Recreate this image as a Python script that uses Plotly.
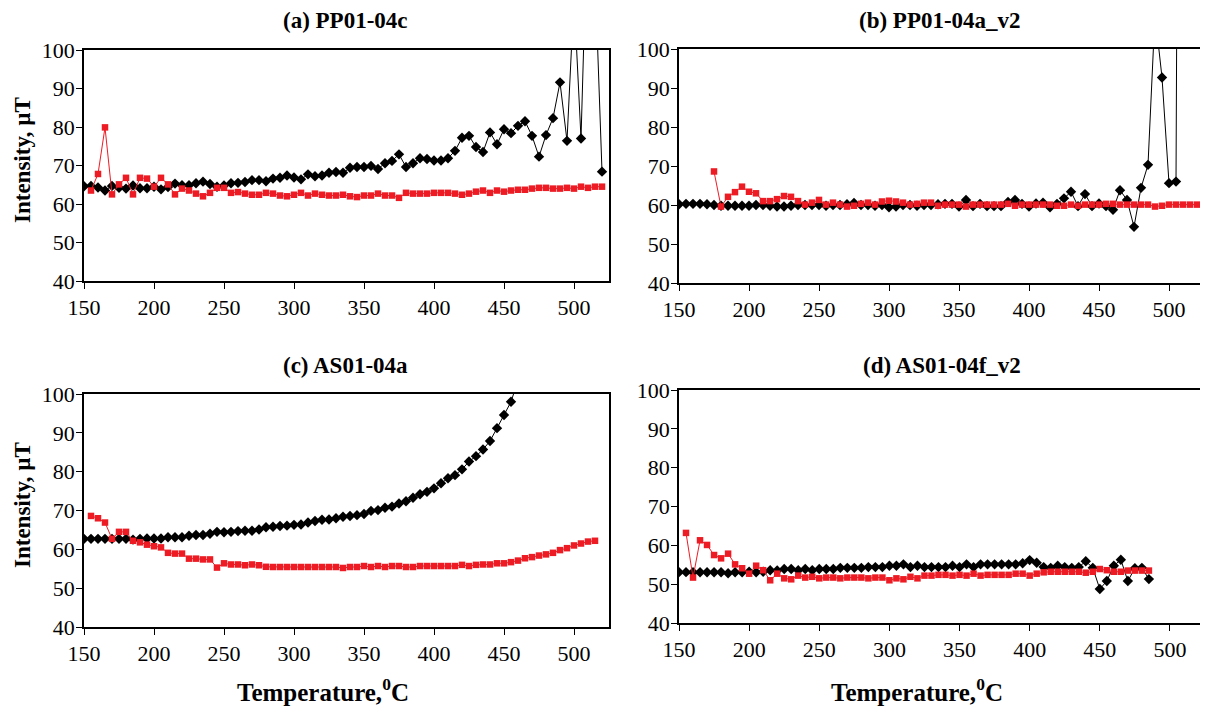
import plotly.graph_objects as go

# ---------------- data ----------------
a_black_T = list(range(150, 525, 5))
a_black = [64.6, 64.7, 64.3, 63.5, 64.7, 64.2, 64.0, 64.8, 64.1, 64.1,
           64.5, 63.8, 64.4, 65.3, 64.9, 64.9, 65.4, 65.8, 65.2, 64.5,
           64.8, 65.4, 65.5, 65.7, 66.2, 66.2, 65.9, 66.6, 66.8, 67.4,
           66.9, 66.4, 67.7, 67.2, 67.4, 68.1, 68.3, 68.1, 69.4, 69.6,
           69.6, 69.9, 69.1, 70.6, 71.2, 72.9, 69.6, 70.6, 71.9, 71.7,
           71.3, 71.3, 71.9, 73.8, 77.2, 77.7, 74.8, 73.5, 78.6, 75.5,
           79.4, 78.4, 80.3, 81.5, 77.7, 72.3, 77.9, 82.3, 91.6, 76.4,
           114.0, 77.0, 140.0, 120.0, 68.4]
a_red_T = list(range(155, 525, 5))
a_red = [63.5, 67.8, 79.9, 62.5, 65.1, 66.8, 62.5, 66.8, 66.6, 64.5,
         66.8, 65.1, 62.5, 64.0, 63.5, 62.7, 62.0, 62.9, 64.2, 64.2,
         62.9, 63.1, 62.7, 62.4, 62.4, 62.9, 62.7, 62.2, 62.0, 62.4,
         62.9, 62.2, 62.7, 62.4, 62.2, 62.2, 62.4, 62.0, 61.8, 62.2,
         62.2, 62.7, 62.2, 62.2, 61.6, 62.9, 62.7, 62.7, 62.7, 62.9,
         62.9, 62.9, 62.7, 62.4, 62.7, 63.2, 63.5, 62.9, 63.5, 63.2,
         63.5, 63.7, 63.7, 64.0, 64.2, 64.2, 64.0, 64.0, 64.2, 64.0,
         64.5, 64.2, 64.5, 64.5]

b_black_T = list(range(150, 515, 5))
b_black = [60.2, 60.3, 60.3, 60.3, 60.2, 60.0, 59.8, 59.8, 59.8, 59.8,
           59.8, 60.0, 60.0, 59.8, 59.6, 59.6, 59.8, 60.0, 60.0, 60.0,
           60.0, 59.8, 60.0, 60.0, 60.2, 60.5, 60.0, 60.0, 59.8, 60.0,
           59.4, 59.6, 60.0, 60.0, 59.8, 60.0, 60.0, 60.2, 60.3, 60.3,
           59.6, 61.3, 59.7, 60.3, 59.7, 59.7, 59.7, 60.8, 61.3, 60.3,
           59.6, 60.4, 60.6, 59.4, 60.3, 61.7, 63.4, 59.7, 62.8, 59.7,
           60.4, 59.7, 58.8, 63.8, 61.3, 54.4, 64.4, 70.3, 109.0, 92.7,
           65.6, 66.0, 450.0]
b_red_T = list(range(175, 525, 5))
b_red = [68.6, 59.6, 62.1, 63.3, 64.7, 63.4, 63.0, 61.0, 61.0, 61.5,
         62.3, 62.1, 61.0, 60.1, 60.6, 61.3, 60.1, 60.6, 60.1, 59.6,
         59.8, 60.3, 60.6, 60.1, 60.9, 61.1, 60.9, 60.6, 60.1, 60.3,
         60.6, 60.6, 59.8, 60.1, 60.1, 60.1, 59.6, 60.1, 60.1, 60.1,
         60.1, 60.1, 60.3, 59.8, 60.1, 60.1, 60.1, 60.1, 60.1, 59.8,
         59.8, 60.1, 59.8, 60.1, 60.1, 60.1, 60.3, 60.3, 60.1, 60.1,
         60.1, 60.1, 60.1, 59.6, 59.8, 60.1, 60.1, 60.1, 60.1, 60.1]

c_black_T = list(range(150, 465, 5))
c_black = [62.7, 62.7, 62.7, 62.7, 62.7, 62.7, 62.7, 62.5, 62.7, 62.8,
           62.8, 62.8, 63.1, 63.1, 63.1, 63.5, 63.7, 63.7, 64.0, 64.5,
           64.4, 64.5, 64.7, 64.8, 64.8, 65.1, 65.7, 65.8, 66.0, 66.1,
           66.3, 66.4, 66.9, 67.3, 67.6, 67.7, 68.0, 68.4, 68.6, 68.8,
           69.1, 69.9, 70.1, 70.7, 71.0, 71.8, 72.4, 73.3, 74.2, 74.8,
           75.7, 77.0, 78.3, 79.1, 80.6, 82.6, 84.0, 85.7, 87.9, 91.2,
           94.6, 98.0, 103.5]
c_red_T = list(range(155, 520, 5))
c_red = [68.6, 68.0, 66.9, 62.7, 64.5, 64.5, 62.2, 61.8, 61.2, 60.8,
         60.5, 59.1, 58.9, 58.9, 57.6, 57.6, 57.4, 57.4, 55.3, 56.4,
         56.1, 56.1, 55.9, 56.1, 55.9, 55.5, 55.45, 55.45, 55.45, 55.45,
         55.45, 55.45, 55.45, 55.45, 55.45, 55.45, 55.2, 55.45, 55.45, 55.7,
         55.45, 55.7, 55.45, 55.7, 55.7, 55.45, 55.45, 55.7, 55.7, 55.7,
         55.7, 55.7, 55.7, 56.0, 55.7, 56.0, 56.1, 56.1, 56.4, 56.4,
         56.7, 57.1, 57.7, 58.0, 58.4, 58.7, 59.1, 59.8, 60.3, 61.0,
         61.5, 62.0, 62.2]

d_black_T = list(range(150, 490, 5))
d_black = [53.1, 53.1, 53.05, 53.05, 53.05, 53.05, 53.05, 52.8, 53.05, 53.05,
           53.2, 53.05, 53.2, 53.6, 53.5, 53.9, 53.9, 53.6, 53.9, 53.6,
           53.9, 53.9, 53.9, 54.2, 54.2, 54.2, 54.2, 54.4, 54.4, 54.4,
           54.75, 54.75, 55.1, 54.4, 54.75, 54.4, 54.4, 54.4, 54.4, 54.75,
           54.4, 55.1, 54.4, 55.1, 55.1, 55.1, 55.1, 55.1, 55.1, 55.4,
           56.2, 55.5, 54.4, 54.2, 54.75, 54.4, 54.2, 54.4, 55.9, 54.2,
           48.75, 50.8, 54.75, 56.3, 50.8, 54.1, 54.2, 51.3]
d_red_T = list(range(155, 490, 5))
d_red = [63.2, 51.7, 61.3, 60.1, 57.5, 56.65, 57.85, 55.1, 54.1, 52.7,
         54.75, 53.6, 51.0, 52.7, 51.5, 51.25, 52.2, 51.7, 51.9, 51.5,
         51.7, 51.7, 51.5, 51.7, 51.7, 51.7, 51.5, 51.7, 51.7, 51.0,
         51.5, 51.25, 51.9, 51.5, 52.2, 52.2, 52.4, 52.4, 52.2, 52.4,
         52.2, 52.7, 52.2, 52.4, 52.4, 52.4, 52.4, 52.7, 52.7, 52.2,
         52.7, 53.05, 53.2, 53.2, 53.2, 53.2, 53.2, 52.95, 53.2, 53.9,
         53.6, 53.2, 53.2, 53.5, 53.5, 53.5, 53.5]

titles = ["(a) PP01-04c", "(b) PP01-04a_v2", "(c) AS01-04a", "(d) AS01-04f_v2"]
x_ticks = [150, 200, 250, 300, 350, 400, 450, 500]
y_ticks = [40, 50, 60, 70, 80, 90, 100]
y_title = "Intensity, µT"
x_title = "Temperature,<sup>0</sup>C"

# ---------------- figure ----------------
# the page body has an 8 px margin, so the figure is laid out 8 px up/left
OFF = 8
W, H = 1208 - OFF, 717 - OFF
FONT = "Liberation Serif, Times New Roman, serif"
RED = "#ED1C24"


def fx(px):
    return (px - OFF) / W


def fy(py):
    return 1 - (py - OFF) / H


panels = [
    (a_black_T, a_black, a_red_T, a_red),
    (b_black_T, b_black, b_red_T, b_red),
    (c_black_T, c_black, c_red_T, c_red),
    (d_black_T, d_black, d_red_T, d_red),
]
# screen pixel boxes: left, right, top, bottom
boxes = [(84, 609, 50, 281), (679, 1204, 49, 283),
         (84, 609, 394, 627), (679, 1205, 390, 623)]

fig = go.Figure()
layout = dict(template="none", width=W, height=H, autosize=False,
              margin=dict(l=0, r=0, t=0, b=0, pad=0, autoexpand=False),
              paper_bgcolor="white", plot_bgcolor="white", showlegend=False,
              font=dict(family=FONT, color="black", size=22))

for i, ((bt, bv, rt, rv), (l, r, t, b)) in enumerate(zip(panels, boxes)):
    n = "" if i == 0 else str(i + 1)
    xa, ya = "x" + n, "y" + n
    fig.add_trace(go.Scatter(x=bt, y=bv, xaxis=xa, yaxis=ya, mode="lines+markers",
                             line=dict(color="black", width=1),
                             marker=dict(symbol="diamond", size=8, color="black")))
    fig.add_trace(go.Scatter(x=rt, y=rv, xaxis=xa, yaxis=ya, mode="lines+markers",
                             line=dict(color=RED, width=1),
                             marker=dict(symbol="square", size=6.5, color=RED)))
    axcommon = dict(showgrid=False, zeroline=False, showline=True, mirror=True,
                    automargin=False,
                    linecolor="black", linewidth=1.6, ticks="outside", ticklen=6,
                    tickwidth=1.4, tickcolor="black",
                    tickfont=dict(family=FONT, size=22, color="black"))
    layout["xaxis" + n] = dict(axcommon, domain=[fx(l), fx(r)], range=[150, 525],
                               tickvals=x_ticks, anchor=ya)
    layout["yaxis" + n] = dict(axcommon, domain=[fy(b), fy(t)], range=[40, 100],
                               tickvals=y_ticks, anchor=xa, ticklabelstandoff=-3)

annotations = []
title_pos = [(345, 21), (940, 21), (345, 365), (942, 365)]
for txt, (x, y) in zip(titles, title_pos):
    annotations.append(dict(text="<b>" + txt + "</b>", x=fx(x), y=fy(y), xref="paper",
                            yref="paper", showarrow=False, xanchor="center", yanchor="middle",
                            borderpad=0,
                            font=dict(family=FONT, size=23, color="black")))
for y in (160, 505):
    annotations.append(dict(text="<b>" + y_title + "</b>", x=fx(22), y=fy(y), xref="paper",
                            yref="paper", showarrow=False, textangle=-90,
                            xanchor="center", yanchor="middle",
                            font=dict(family=FONT, size=23, color="black")))
for x in (323, 917):
    annotations.append(dict(text="<b>" + x_title + "</b>", x=fx(x), y=fy(690), xref="paper",
                            yref="paper", showarrow=False, xanchor="center", yanchor="middle",
                            font=dict(family=FONT, size=25, color="black")))
layout["annotations"] = annotations
fig.update_layout(**layout)
fig.write_html("out.html")
